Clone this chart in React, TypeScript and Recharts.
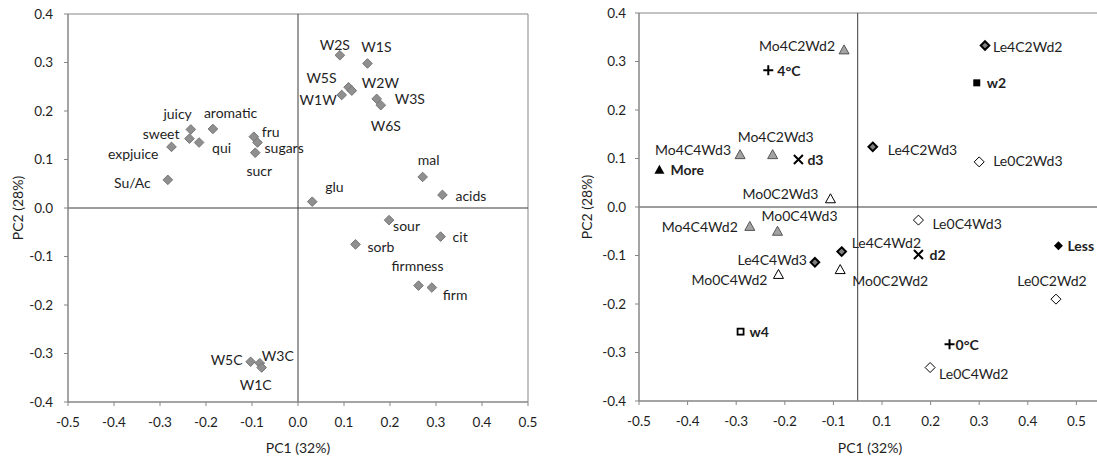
import React from 'react';
import { ScatterChart, Scatter, XAxis, YAxis, ReferenceLine, Label } from 'recharts';

const FONT = 'Lato, "Open Sans", sans-serif';

// ---------- Left chart (loadings / samples) ----------
const leftNames = ['juicy', 'aromatic', 'sweet', 'qui', 'expjuice', 'Su/Ac', 'fru', 'sugars', 'sucr', 'W2S', 'W1S', 'W5S', 'W2W', 'W1W', 'W3S', 'W6S', 'mal', 'acids', 'glu', 'sour', 'cit', 'sorb', 'firmness', 'firm', 'W5C', 'W3C', 'W1C'];
const leftPC1 = [-0.233, -0.185, -0.236, -0.215, -0.275, -0.283, -0.096, -0.088, -0.093, 0.091, 0.151, 0.110, 0.117, 0.095, 0.171, 0.180, 0.271, 0.314, 0.031, 0.198, 0.310, 0.125, 0.262, 0.291, -0.103, -0.083, -0.079];
const leftPC2 = [0.162, 0.163, 0.143, 0.135, 0.126, 0.058, 0.147, 0.135, 0.114, 0.315, 0.298, 0.249, 0.242, 0.233, 0.225, 0.212, 0.064, 0.027, 0.013, -0.025, -0.059, -0.075, -0.160, -0.164, -0.317, -0.320, -0.329];

// ---------- Right chart ----------
const mo4Names = ['Mo4C2Wd2', 'Mo4C4Wd3', 'Mo4C2Wd3', 'Mo4C4Wd2', 'Mo0C4Wd3'];
const mo4PC1 = [-0.078, -0.292, -0.225, -0.272, -0.215];
const mo4PC2 = [0.325, 0.109, 0.109, -0.039, -0.049];

const mo0Names = ['Mo0C2Wd3', 'Mo0C4Wd2', 'Mo0C2Wd2'];
const mo0PC1 = [-0.106, -0.213, -0.086];
const mo0PC2 = [0.018, -0.138, -0.128];

const le4Names = ['Le4C2Wd2', 'Le4C2Wd3', 'Le4C4Wd3', 'Le4C4Wd2'];
const le4PC1 = [0.212, -0.019, -0.138, -0.083];
const le4PC2 = [0.333, 0.124, -0.114, -0.092];

const le0Names = ['Le0C2Wd3', 'Le0C4Wd3', 'Le0C2Wd2', 'Le0C4Wd2'];
const le0PC1 = [0.200, 0.075, 0.358, 0.099];
const le0PC2 = [0.093, -0.027, -0.190, -0.331];

const factorNames = ['More', 'Less', '4°C', '0°C', 'd3', 'd2', 'w2', 'w4'];
const factorPC1 = [-0.458, 0.363, -0.234, 0.139, -0.172, 0.075, 0.195, -0.291];
const factorPC2 = [0.078, -0.080, 0.282, -0.283, 0.098, -0.098, 0.256, -0.257];

// ---------- Ticks ----------
const leftPC1Ticks = [-0.5, -0.4, -0.3, -0.2, -0.1, 0, 0.1, 0.2, 0.3, 0.4, 0.5];
const pc2Ticks = [-0.4, -0.3, -0.2, -0.1, 0, 0.1, 0.2, 0.3, 0.4];
const rightPC1Ticks = [-0.5, -0.4, -0.3, -0.2, -0.1, 0, 0.1, 0.2, 0.3, 0.4];
const rightPC1TickLabels = ['-0.5', '-0.4', '-0.3', '-0.2', '-0.1', '0.1', '0.2', '0.3', '0.4', '0.5'];

const build = (names: string[], xs: number[], ys: number[]) =>
  names.map((name, i) => ({ name, x: xs[i], y: ys[i] }));

const leftData = build(leftNames, leftPC1, leftPC2);
const mo4Data = build(mo4Names, mo4PC1, mo4PC2);
const mo0Data = build(mo0Names, mo0PC1, mo0PC2);
const le4Data = build(le4Names, le4PC1, le4PC2);
const le0Data = build(le0Names, le0PC1, le0PC2);
const factorData = build(factorNames, factorPC1, factorPC2);

// label placement (style): [dx, dy, anchor]
type Place = [number, number, 'start' | 'middle' | 'end'];
const place: Record<string, Place> = {
  juicy: [1, -16, 'end'], aromatic: [-9, -16, 'start'], sweet: [-10, -5, 'end'], qui: [13, 5, 'start'],
  expjuice: [-13, 7, 'end'], 'Su/Ac': [-17, 3, 'end'], fru: [8, -5, 'start'], sugars: [7, 5, 'start'],
  sucr: [4, 18, 'middle'], W2S: [-5, -11, 'middle'], W1S: [9, -17, 'middle'], W5S: [-12, -10, 'end'],
  W2W: [10, -8, 'start'], W1W: [-5, 5, 'end'], W3S: [18, 0, 'start'], W6S: [5, 20, 'middle'],
  mal: [6, -17, 'middle'], acids: [13, 1, 'start'], glu: [13, -15, 'start'], sour: [4, 5, 'start'],
  cit: [12, 0, 'start'], sorb: [12, 2, 'start'], firmness: [-1, -20, 'middle'], firm: [11, 7, 'start'],
  W5C: [-8, -2, 'end'], W3C: [2, -8, 'start'], W1C: [-6, 17, 'middle'],
  Mo4C2Wd2: [-9, -4, 'end'], Mo4C4Wd3: [-9, -5, 'end'], Mo4C2Wd3: [3, -18, 'middle'], Mo4C4Wd2: [-12, 1, 'end'],
  Mo0C4Wd3: [22, -15, 'middle'], Mo0C2Wd3: [-12, -5, 'end'], Mo0C4Wd2: [-11, 6, 'end'], Mo0C2Wd2: [12, 11, 'start'],
  Le4C2Wd2: [8, 1, 'start'], Le4C2Wd3: [15, 3, 'start'], Le4C4Wd3: [-8, -3, 'end'], Le4C4Wd2: [10, -9, 'start'],
  Le0C2Wd3: [14, -1, 'start'], Le0C4Wd3: [14, 3, 'start'], Le0C2Wd2: [-4, -19, 'middle'], Le0C4Wd2: [9, 6, 'start'],
  More: [11, 0, 'start'], Less: [9, 0, 'start'], '4°C': [9, 0, 'start'], '0°C': [6, 0, 'start'],
  d3: [9, 0, 'start'], d2: [11, 0, 'start'], w2: [10, 0, 'start'], w4: [9, 0, 'start'],
};

const LABEL_SIZE = 14;

const PointLabel = ({ cx, cy, name, bold }: { cx: number; cy: number; name: string; bold?: boolean }) => {
  const p = place[name] || [8, 0, 'start'];
  return (
    <text x={cx + p[0]} y={cy + p[1]} textAnchor={p[2]} dominantBaseline="central"
      fontSize={LABEL_SIZE} fontFamily={FONT} fontWeight={bold ? 700 : 400} fill="#1e1e1e">
      {name}
    </text>
  );
};

const diamond = (cx: number, cy: number, r: number) =>
  `${cx},${cy - r} ${cx + r},${cy} ${cx},${cy + r} ${cx - r},${cy}`;
const triangle = (cx: number, cy: number, w: number, h: number) =>
  `${cx},${cy - h / 2} ${cx + w / 2},${cy + h / 2} ${cx - w / 2},${cy + h / 2}`;

const LeftShape = (props: any) => {
  const { cx, cy, payload } = props;
  return (
    <g>
      <polygon points={diamond(cx, cy, 4.8)} fill="#8f8f8f" stroke="#767676" strokeWidth={1} />
      <PointLabel cx={cx} cy={cy} name={payload.name} />
    </g>
  );
};

const TriShape = (fill: string, stroke: string) => (props: any) => {
  const { cx, cy, payload } = props;
  return (
    <g>
      <polygon points={triangle(cx, cy, 10, 9)} fill={fill} stroke={stroke} strokeWidth={1} />
      <PointLabel cx={cx} cy={cy} name={payload.name} />
    </g>
  );
};

const DiaShape = (fill: string, sw: number) => (props: any) => {
  const { cx, cy, payload } = props;
  return (
    <g>
      <polygon points={diamond(cx, cy, sw > 1 ? 4.3 : 5)} fill={fill} stroke="#000" strokeWidth={sw} />
      <PointLabel cx={cx} cy={cy} name={payload.name} />
    </g>
  );
};

const FactorShape = (props: any) => {
  const { cx, cy, payload } = props;
  const n: string = payload.name;
  let sym: React.ReactNode = null;
  if (n === 'More') sym = <polygon points={triangle(cx, cy, 10, 9)} fill="#000" />;
  else if (n === 'Less') sym = <polygon points={diamond(cx, cy, 4.5)} fill="#000" />;
  else if (n === '4°C' || n === '0°C')
    sym = <path d={`M${cx - 5},${cy} H${cx + 5} M${cx},${cy - 5} V${cy + 5}`} stroke="#000" strokeWidth={2} />;
  else if (n === 'd3' || n === 'd2')
    sym = <path d={`M${cx - 4.5},${cy - 4.5} L${cx + 4.5},${cy + 4.5} M${cx + 4.5},${cy - 4.5} L${cx - 4.5},${cy + 4.5}`} stroke="#000" strokeWidth={2} />;
  else if (n === 'w2') sym = <rect x={cx - 3.5} y={cy - 3.5} width={7} height={7} fill="#000" />;
  else if (n === 'w4') sym = <rect x={cx - 3} y={cy - 3} width={6} height={6} fill="#fff" stroke="#000" strokeWidth={1.8} />;
  return (
    <g>
      {sym}
      <PointLabel cx={cx} cy={cy} name={n} bold />
    </g>
  );
};

const AXIS = '#868686';
const tickStyle = { fill: '#1e1e1e', fontSize: 13.5, fontFamily: FONT };
const fmt = (v: number) => v.toFixed(1);

const XTitle = (cxLocal: number) => () => (
  <text x={cxLocal} y={453} textAnchor="middle" fontSize={14} fontFamily={FONT} fill="#1e1e1e">PC1 (32%)</text>
);
const YTitle = (xLocal: number, yc: number) => () => (
  <text x={xLocal} y={yc} textAnchor="middle" dominantBaseline="central" transform={`rotate(-90 ${xLocal} ${yc})`}
    fontSize={14} fontFamily={FONT} fill="#1e1e1e">PC2 (28%)</text>
);

export default function App() {
  return (
    <div style={{ position: 'fixed', left: 0, top: 0, width: 1097, height: 457, overflow: 'hidden', background: '#fff' }}>
      <div style={{ position: 'absolute', left: 0, top: 0 }}>
        <ScatterChart width={540} height={457} margin={{ top: 14, right: 12, bottom: 0, left: 0 }}>
          <XAxis type="number" dataKey="x" domain={[-0.5, 0.5]} ticks={leftPC1Ticks} tickFormatter={fmt}
            height={55} tickSize={4} tickMargin={11} tick={tickStyle}
            axisLine={{ stroke: AXIS, strokeWidth: 1.5 }} tickLine={{ stroke: AXIS }}>
            <Label content={XTitle(298)} />
          </XAxis>
          <YAxis type="number" dataKey="y" domain={[-0.4, 0.4]} ticks={pc2Ticks} tickFormatter={fmt}
            width={68} tickSize={4} tickMargin={11} tick={tickStyle}
            axisLine={{ stroke: AXIS, strokeWidth: 1.5 }} tickLine={{ stroke: AXIS }}>
            <Label content={YTitle(17, 208)} />
          </YAxis>
          <ReferenceLine y={0.4} stroke={AXIS} strokeWidth={1} />
          <ReferenceLine x={0.5} stroke={AXIS} strokeWidth={1} />
          <ReferenceLine x={0} stroke="#3a3a3a" strokeWidth={1} />
          <ReferenceLine y={0} stroke="#3a3a3a" strokeWidth={1} />
          <Scatter data={leftData} shape={LeftShape} isAnimationActive={false} />
        </ScatterChart>
      </div>
      <div style={{ position: 'absolute', left: 540, top: 0 }}>
        <ScatterChart width={557} height={457} margin={{ top: 13, right: 0, bottom: 0, left: 0 }}>
          <XAxis type="number" dataKey="x" domain={[-0.5, 0.4424]} ticks={rightPC1Ticks}
            tickFormatter={(v: number) => {
              const i = rightPC1Ticks.findIndex((t) => Math.abs(t - v) < 1e-9);
              return i >= 0 ? rightPC1TickLabels[i] : '';
            }}
            height={56} tickSize={4} tickMargin={11} tick={tickStyle}
            axisLine={{ stroke: AXIS, strokeWidth: 1.5 }} tickLine={{ stroke: AXIS }}>
            <Label content={XTitle(330)} />
          </XAxis>
          <YAxis type="number" dataKey="y" domain={[-0.4, 0.4]} ticks={pc2Ticks} tickFormatter={fmt}
            width={99} tickSize={4} tickMargin={9} tick={tickStyle}
            axisLine={{ stroke: AXIS, strokeWidth: 1.5 }} tickLine={{ stroke: AXIS }}>
            <Label content={YTitle(46, 207)} />
          </YAxis>
          <ReferenceLine y={0.4} stroke={AXIS} strokeWidth={1} />
          <ReferenceLine x={-0.05} stroke="#3a3a3a" strokeWidth={1} />
          <ReferenceLine y={0} stroke="#3a3a3a" strokeWidth={1} />
          <Scatter data={mo4Data} shape={TriShape('#a3a3a3', '#555')} isAnimationActive={false} />
          <Scatter data={mo0Data} shape={TriShape('#fff', '#000')} isAnimationActive={false} />
          <Scatter data={le4Data} shape={DiaShape('#808080', 2)} isAnimationActive={false} />
          <Scatter data={le0Data} shape={DiaShape('#fff', 1)} isAnimationActive={false} />
          <Scatter data={factorData} shape={FactorShape} isAnimationActive={false} />
        </ScatterChart>
      </div>
    </div>
  );
}
